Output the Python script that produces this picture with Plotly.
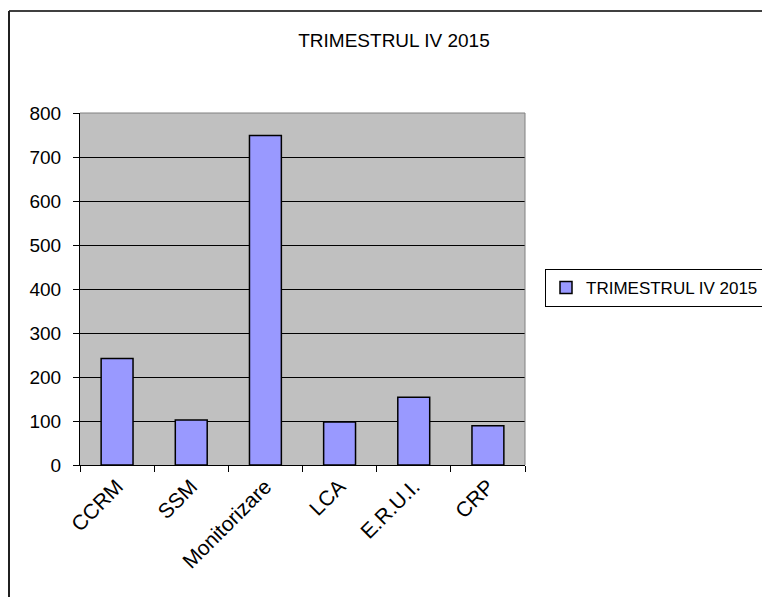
import plotly.graph_objects as go

categories = ["CCRM", "SSM", "Monitorizare", "LCA", "E.R.U.I.", "CRP"]
values = [242, 102, 749, 98, 154, 89]
series_name = "TRIMESTRUL IV 2015"
title_text = "TRIMESTRUL IV 2015"
y_ticks = [0, 100, 200, 300, 400, 500, 600, 700, 800]

W, H = 770, 597
OFF = 8  # default page body margin offsets the figure by 8px
# target page-pixel plot area: x 80..525, y 113..465
ML, MT = 80 - OFF, 113 - OFF
PW, PH = 445, 352
MR, MB = W - ML - PW, H - MT - PH

def px_x(px):
    return (px - OFF - ML) / PW

def px_y(py):
    return (MT + PH - (py - OFF)) / PH

FONT = "Liberation Sans, Arial, sans-serif"

fig = go.Figure()
fig.add_trace(go.Bar(
    x=categories, y=values, name=series_name,
    marker=dict(color="#9999FF", line=dict(color="#000000", width=1.5)),
    width=0.43, showlegend=True,
))

fig.update_layout(
    width=W, height=H,
    margin=dict(l=ML, r=MR, t=MT, b=MB, pad=0, autoexpand=False),
    paper_bgcolor="#FFFFFF",
    plot_bgcolor="#C0C0C0",
    font=dict(family=FONT, color="#000000", size=19),
    title=dict(text=title_text, x=px_x(394), xref="paper", xanchor="center",
               y=1 - (40 - OFF) / H, yref="container", yanchor="middle",
               font=dict(size=19, family=FONT, color="#000000")),
    showlegend=True,
    legend=dict(x=px_x(545), y=px_y(288), xanchor="left", yanchor="middle",
                xref="paper", yref="paper",
                bgcolor="#FFFFFF", bordercolor="#000000", borderwidth=1,
                font=dict(size=17, family=FONT, color="#000000"),
                itemwidth=30),
)

fig.update_yaxes(
    range=[0, 800], tickvals=y_ticks, ticktext=[str(v) for v in y_ticks],
    showgrid=True, gridcolor="#000000", gridwidth=1,
    showline=True, linecolor="#000000", linewidth=1,
    ticks="outside", ticklen=6, tickcolor="#000000", tickwidth=1,
    ticklabelstandoff=8, zeroline=False,
    tickfont=dict(size=19, family=FONT, color="#000000"),
)
fig.update_xaxes(
    type="category", showgrid=False,
    showline=True, linecolor="#000000", linewidth=1,
    ticks="outside", ticklen=6, tickcolor="#000000", tickwidth=1,
    tickson="boundaries", tickangle=-45,
    tickfont=dict(size=21, family=FONT, color="#000000"),
)

# gray top/right plot-area border
fig.add_shape(type="line", xref="paper", yref="paper", x0=0, x1=1, y0=1, y1=1,
              line=dict(color="#808080", width=1), layer="above")
fig.add_shape(type="line", xref="paper", yref="paper", x0=1, x1=1, y0=0, y1=1,
              line=dict(color="#808080", width=1), layer="above")
# outer chart frame (top and left edges visible)
fig.add_shape(type="line", xref="paper", yref="paper",
              x0=px_x(9), x1=px_x(790), y0=px_y(11), y1=px_y(11),
              line=dict(color="#404040", width=2), layer="above")
fig.add_shape(type="line", xref="paper", yref="paper",
              x0=px_x(9), x1=px_x(9), y0=px_y(11), y1=px_y(620),
              line=dict(color="#202020", width=2), layer="above")

fig.write_html("out.html")
